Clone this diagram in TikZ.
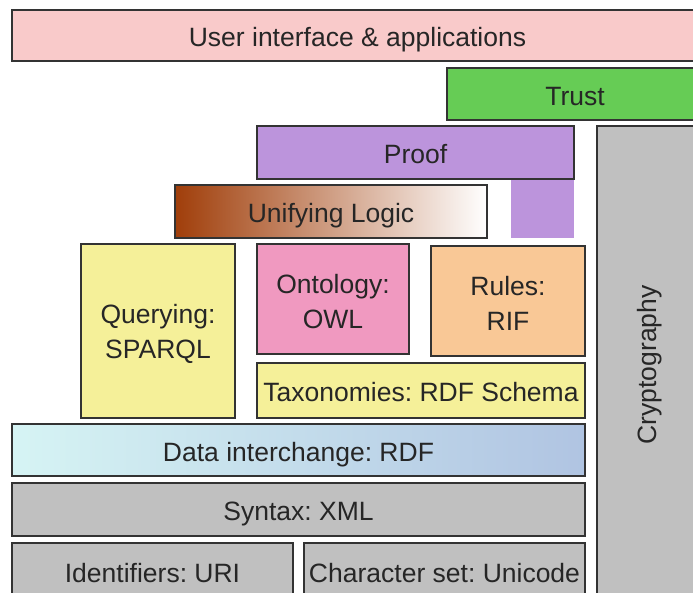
\documentclass[tikz,border=0pt]{standalone}
\usepackage{fontspec}
\setmainfont{Liberation Sans}
\frenchspacing
\definecolor{uipink}{RGB}{249,202,202}
\definecolor{trustgreen}{RGB}{102,204,85}
\definecolor{proofpurple}{RGB}{188,148,220}
\definecolor{logicbrown}{RGB}{160,62,10}
\definecolor{qyellow}{RGB}{245,240,153}
\definecolor{owlpink}{RGB}{240,153,192}
\definecolor{riforange}{RGB}{249,200,150}
\definecolor{rdfcyan}{RGB}{214,244,244}
\definecolor{rdfblue}{RGB}{176,196,226}
\definecolor{lgrey}{RGB}{192,192,192}
\begin{document}
\begin{tikzpicture}[x=1pt,y=-1pt,
  layer/.style={draw=black!80, line width=1.3pt, text=black!85, align=center,
    inner sep=0pt, font=\fontsize{26.5}{35}\selectfont, text height=22pt, text depth=0pt},
  multi/.style={draw=black!80, line width=1.3pt, inner sep=0pt},
  txt/.style={text=black!85, align=center, inner sep=0pt, font=\fontsize{26.5}{35}\selectfont},
  grey/.style={layer, fill=lgrey}]
\useasboundingbox (0,0) rectangle (693,592);
\node[layer, fill=uipink, minimum width=691pt, minimum height=51pt] (ui) at (357.5,35.5) {User interface \& applications};
\node[layer, fill=trustgreen, minimum width=256pt, minimum height=52pt] (trust) at (575,94) {Trust};
\fill[proofpurple] (511,178) rectangle (574,238);
\node[layer, fill=proofpurple, minimum width=317pt, minimum height=53pt] (proof) at (415.5,152.5) {Proof};
\node[layer, left color=logicbrown, right color=white, minimum width=312pt, minimum height=53pt] (logic) at (331,211.5) {Unifying Logic};
\node[multi, fill=qyellow, minimum width=154pt, minimum height=174pt] (query) at (158,331) {};
\node[txt] (query-t) at ([yshift=-3pt]query.center) {Querying:\\SPARQL};
\node[multi, fill=owlpink, minimum width=152pt, minimum height=110pt] (owl) at (333,299) {};
\node[txt] (owl-t) at ([yshift=-3pt]owl.center) {Ontology:\\OWL};
\node[multi, fill=riforange, minimum width=154pt, minimum height=110pt] (rif) at (508,301) {};
\node[txt] (rif-t) at ([yshift=-2pt]rif.center) {Rules:\\RIF};
\node[layer, fill=qyellow, minimum width=328pt, minimum height=55pt] (rdfs) at (421,390.5) {Taxonomies: RDF Schema};
\node[layer, left color=rdfcyan, right color=rdfblue, minimum width=573pt, minimum height=52pt] (rdf) at (298.5,450) {Data interchange: RDF};
\node[grey, minimum width=573pt, minimum height=53pt] (xml) at (298.5,509.5) {Syntax: XML};
\node[grey, minimum width=281pt, minimum height=56pt] (uri) at (152.5,571) {Identifiers: URI};
\node[grey, minimum width=281pt, minimum height=56pt] (unicode) at (444.5,571) {Character set: Unicode};
\node[multi, fill=lgrey, minimum width=106pt, minimum height=478pt] (crypto) at (650,365) {};
\node[txt, rotate=90] (crypto-t) at (crypto.center) {Cryptography};
\end{tikzpicture}
\end{document}
